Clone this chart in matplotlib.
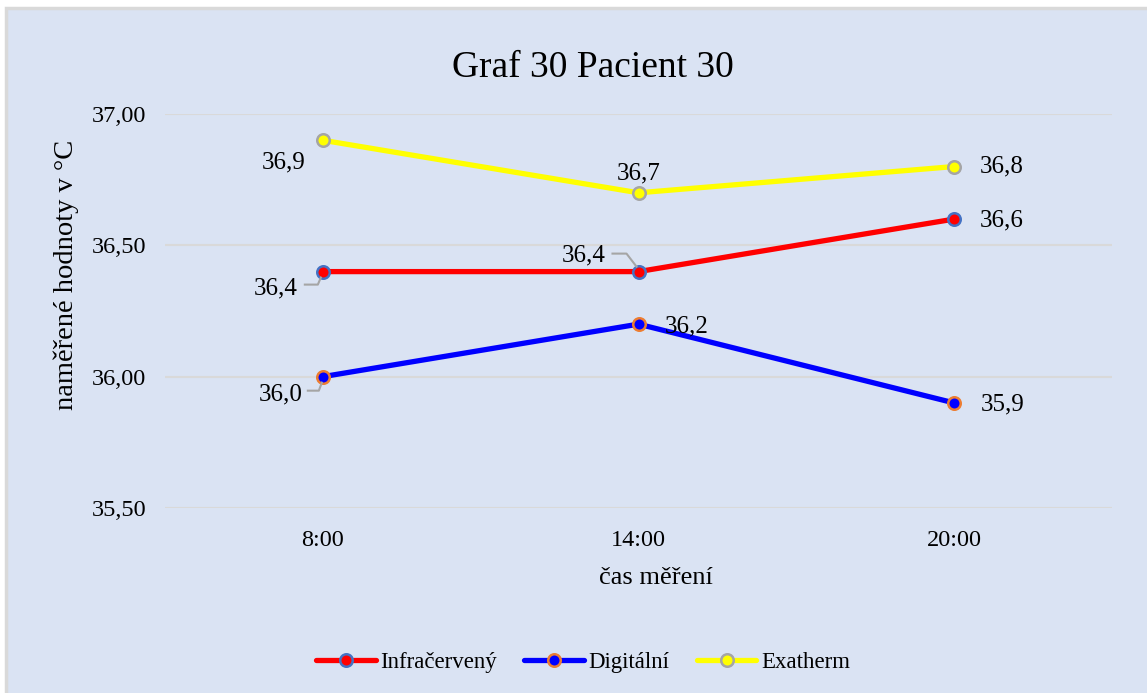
import numpy as np
import matplotlib
matplotlib.use("Agg")
import matplotlib.pyplot as plt
from matplotlib.lines import Line2D
from matplotlib.patches import Rectangle
from matplotlib.transforms import IdentityTransform

plt.rcParams['font.family'] = ['Liberation Serif', 'DejaVu Serif']

# data
times = ["8:00", "14:00", "20:00"]
infra = [36.4, 36.4, 36.6]
digital = [36.0, 36.2, 35.9]
exatherm = [36.9, 36.7, 36.8]
series_names = ["Infračervený", "Digitální", "Exatherm"]
yticks = [35.5, 36.0, 36.5, 37.0]

W, H = 1147, 693
fig = plt.figure(figsize=(W / 100, H / 100), dpi=100)
fig.patch.set_facecolor("white")
# chart area background with grey border
fig.add_artist(Rectangle((6 / W, -0.05), 1.1, 1 - 8 / H + 0.05, transform=fig.transFigure,
                         facecolor="#DAE3F3", edgecolor="#D9D9D9", linewidth=2.5, zorder=-10))

ax = fig.add_axes([165 / W, 1 - 508 / H, (1112 - 165) / W, (508 - 114) / H])
ax.set_facecolor("none")
x = np.arange(len(times))

styles = [
    dict(color="#FF0000", mfc="#FF0000", mec="#4472C4"),
    dict(color="#0000FF", mfc="#0000FF", mec="#ED7D31"),
    dict(color="#FFFF00", mfc="#FFFF00", mec="#A5A5A5"),
]
all_vals = [infra, digital, exatherm]
for vals, name, st in zip(all_vals, series_names, styles):
    ax.plot(x, vals, color=st["color"], lw=3.8, marker="o", ms=9,
            mfc=st["mfc"], mec=st["mec"], mew=1.8, label=name, zorder=3,
            solid_capstyle="round")

ax.set_xlim(-0.5, 2.5)
ax.set_ylim(35.5, 37.0)
ax.set_xticks(x)
ax.set_xticklabels(times)
ax.set_yticks(yticks)
ax.set_yticklabels([f"{v:.2f}".replace(".", ",") for v in yticks])
ax.tick_params(length=0, labelsize=17.5, pad=13.5)
ax.tick_params(axis="x", pad=16, labelsize=17.5)
ax.grid(axis="y", color="#D9D9D9", lw=1.5)
ax.set_axisbelow(True)
for s in ax.spines.values():
    s.set_visible(False)

ax.set_xlabel("čas měření", fontsize=19, va="center", ha="center")
ax.xaxis.set_label_coords(0.5185, -0.178)
ax.set_ylabel("naměřené hodnoty v °C", fontsize=20.5, va="center", ha="center")
ax.yaxis.set_label_coords(-0.1045, 0.591)
fig.text(593 / W, 1 - 68 / H, "Graf 30 Pacient 30", fontsize=27, ha="center", va="center")

# data labels: offsets in pixels (x right, y up)
label_offsets = [
    [(-47, -17), (-55, 16), (48, -1)],
    [(-42, -18), (48, -2), (48, -2)],
    [(-39, -22), (0, 19), (48, 0)],
]
for vals, offs in zip(all_vals, label_offsets):
    for xi, v, (dx, dy) in zip(x, vals, offs):
        ax.annotate(f"{v:.1f}".replace(".", ","), (xi, v), xytext=(dx, dy),
                    textcoords="offset pixels", ha="center", va="center", fontsize=18, zorder=5)

# leader lines (series index, point index, pixel offsets)
leaders = [
    (0, 0, [(-2, -6), (-5, -13), (-18, -13)]),
    (0, 1, [(-2, 5), (-12, 18), (-26, 18)]),
    (1, 0, [(-1, -6), (-4, -14), (-15, -14)]),
]
for si, pi, pts in leaders:
    px, py = ax.transData.transform((x[pi], all_vals[si][pi]))
    xs = [px + p[0] for p in pts]
    ys = [py + p[1] for p in pts]
    fig.add_artist(Line2D(xs, ys, transform=IdentityTransform(), color="#A5A5A5", lw=1.5))

fig.legend(loc="center", bbox_to_anchor=(583 / W, 1 - 662 / H), ncol=3, frameon=False,
           fontsize=16.5, handlelength=2.6, handletextpad=0.2, columnspacing=1.2)

fig.savefig("out.png", dpi=100)
